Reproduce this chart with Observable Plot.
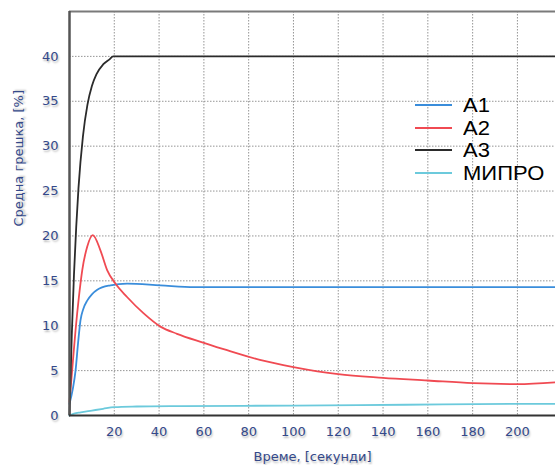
<!DOCTYPE html>
<html><head><meta charset="utf-8">
<script src="https://cdn.jsdelivr.net/npm/d3@7"></script>
<script src="https://cdn.jsdelivr.net/npm/@observablehq/plot@0.6"></script>
<style>
body{margin:0;background:#fff;}
#wrap{position:relative;width:555px;height:465px;overflow:hidden;}
#wrap svg text{text-shadow:1px 2px 2px rgba(0,0,0,0.28);}
#legend{position:absolute;left:415px;top:94px;font-family:"Liberation Sans",Arial,sans-serif;font-size:20px;color:#000;}
#legend .row{display:flex;align-items:center;height:22.5px;}
#legend .sw{width:37px;height:2px;margin-right:11px;}
#legend .lab{display:inline-block;transform:scaleX(1.1);transform-origin:left center;line-height:1;}
</style>
</head><body>
<div id="wrap"><div id="legend"></div></div>
<script>
const seriesNames = ["А1", "А2", "А3", "МИПРО"];
const seriesColors = ["#3a8ddb", "#f04a52", "#2b2b2b", "#6ccadc"];

const tA1 = [0, 1.5, 2.7, 3.8, 4.9, 6.2, 7.9, 10, 12.4, 18.3, 25.7, 40.6, 55.8, 80, 120, 160, 200, 217];
const vA1 = [1.3, 3, 5, 8, 10.6, 11.9, 12.8, 13.5, 14.0, 14.5, 14.7, 14.5, 14.3, 14.3, 14.3, 14.3, 14.3, 14.3];

const tA2 = [0, 1.5, 2.7, 4.2, 5.7, 7.9, 10.4, 13.8, 16.8, 20.5, 25.7, 33, 40.6, 48, 60, 70, 85, 100, 120, 140, 160, 180, 200, 217];
const vA2 = [1.5, 6, 9.5, 13.2, 16.2, 18.8, 20.1, 18.4, 16.2, 14.7, 13.2, 11.4, 9.9, 9.1, 8.1, 7.3, 6.2, 5.4, 4.6, 4.2, 3.9, 3.6, 3.5, 3.7];

const tA3 = [0, 1, 2, 3, 4, 6, 8, 10, 12, 15, 18, 19.5, 40, 100, 217];
const vA3 = [0, 8.8, 15.7, 21, 25.3, 31.1, 34.6, 36.7, 38.0, 39.1, 39.7, 40, 40, 40, 40];

const tM = [0, 2, 5, 10, 15, 20, 30, 50, 100, 150, 200, 217];
const vM = [0, 0.2, 0.35, 0.55, 0.75, 0.93, 1.0, 1.05, 1.1, 1.2, 1.3, 1.3];

const xTicks = [20, 40, 60, 80, 100, 120, 140, 160, 180, 200];
const yTicks = [0, 5, 10, 15, 20, 25, 30, 35, 40];
const xLabel = "Време, [секунди]";
const yLabel = "Средна грешка, [%]";

const seriesT = [tA1, tA2, tA3, tM];
const seriesV = [vA1, vA2, vA3, vM];
const rows = seriesNames.flatMap((s, i) => seriesT[i].map((t, j) => ({s, t, v: seriesV[i][j]})));

const labelColor = "#34498a";
const plot = Plot.plot({
  width: 555, height: 465,
  marginLeft: 69, marginTop: 11, marginRight: 0, marginBottom: 50,
  style: {fontFamily: "DejaVu Sans, Verdana, sans-serif", fontSize: "13px", background: "#fff"},
  x: {domain: [0, 217]},
  y: {domain: [0, 45]},
  color: {domain: seriesNames, range: seriesColors},
  marks: [
    Plot.gridX(xTicks, {stroke: "#8a8a8a", strokeOpacity: 0.9, strokeDasharray: "1.5,1.5"}),
    Plot.gridY(yTicks, {stroke: "#8a8a8a", strokeOpacity: 0.9, strokeDasharray: "1.5,1.5"}),
    Plot.line(rows, {x: "t", y: "v", z: "s", stroke: "s", strokeWidth: 1.8, curve: "monotone-x"}),
    Plot.ruleY([45], {stroke: "#7a7a7a", strokeWidth: 2}),
    Plot.ruleX([0], {stroke: "#555", strokeWidth: 2.5}),
    Plot.ruleY([0], {stroke: "#333", strokeWidth: 2}),
    Plot.axisX(xTicks, {tickSize: 0, tickPadding: 11, label: null, fill: labelColor}),
    Plot.axisY(yTicks, {tickSize: 0, tickPadding: 11, label: null, fill: labelColor}),
    Plot.text([xLabel], {frameAnchor: "bottom", dy: 45, fill: labelColor, fontSize: 13}),
    Plot.text([yLabel], {frameAnchor: "left", rotate: -90, dx: -51, dy: 13, fill: labelColor, fontSize: 13})
  ]
});
document.getElementById("wrap").prepend(plot);

const legend = document.getElementById("legend");
seriesNames.forEach((s, i) => {
  const r = document.createElement("div");
  r.className = "row";
  const sw = document.createElement("div");
  sw.className = "sw";
  sw.style.background = seriesColors[i];
  const t = document.createElement("span");
  t.className = "lab";
  t.textContent = s;
  r.append(sw, t);
  legend.append(r);
});
</script>
</body></html>
